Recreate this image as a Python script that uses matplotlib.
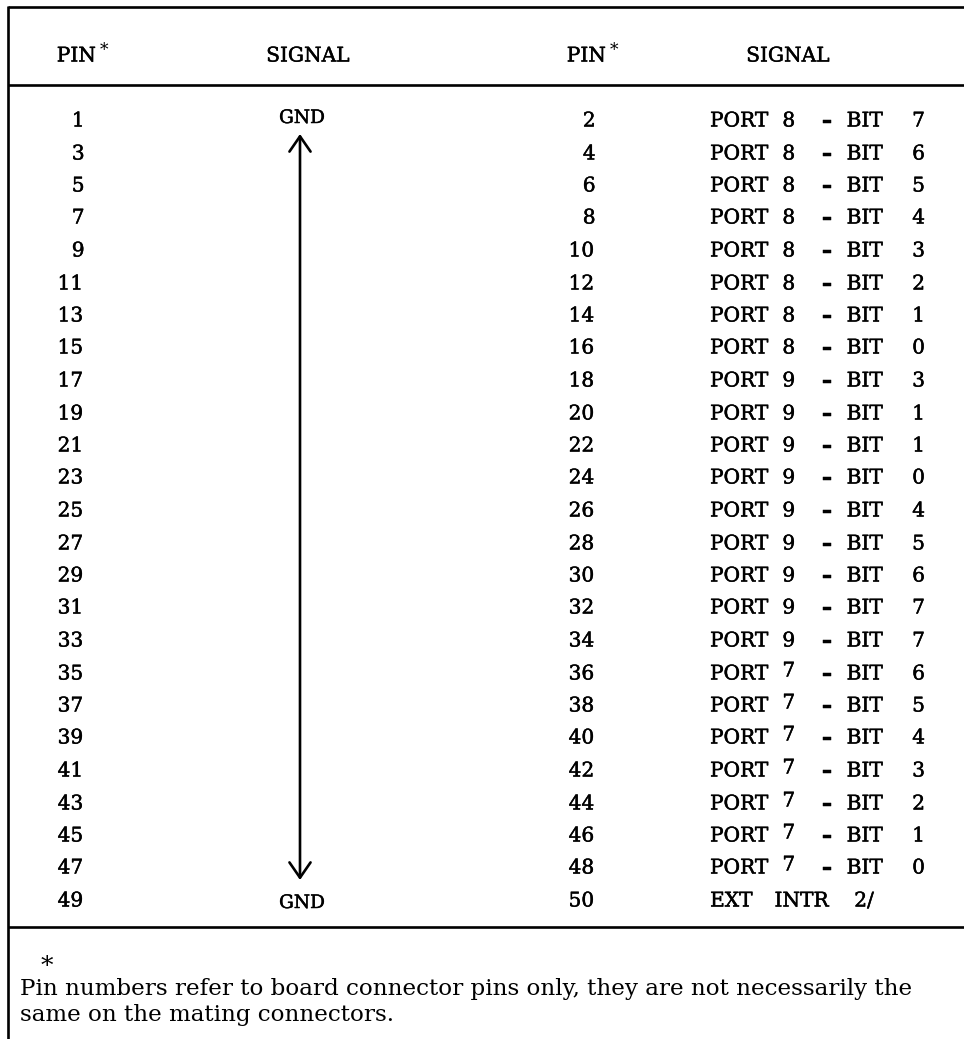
import matplotlib
matplotlib.use("Agg")
import matplotlib.pyplot as plt
import matplotlib.patheffects as pe

# ---------------- data ----------------
left_pins = [1, 3, 5, 7, 9, 11, 13, 15, 17, 19, 21, 23, 25,
             27, 29, 31, 33, 35, 37, 39, 41, 43, 45, 47, 49]
left_signal_top = "GND"
left_signal_bottom = "GND"

right_pins = [2, 4, 6, 8, 10, 12, 14, 16, 18, 20, 22, 24, 26,
              28, 30, 32, 34, 36, 38, 40, 42, 44, 46, 48, 50]
right_ports = [8, 8, 8, 8, 8, 8, 8, 8, 9, 9, 9, 9, 9,
               9, 9, 9, 9, 7, 7, 7, 7, 7, 7, 7, None]
right_bits = [7, 6, 5, 4, 3, 2, 1, 0, 3, 1, 1, 0, 4,
              5, 6, 7, 7, 6, 5, 4, 3, 2, 1, 0, None]
last_signal = "EXT INTR 2/"

headers = ["PIN", "SIGNAL", "PIN", "SIGNAL"]
footnote_mark = "*"
footnote_lines = [
    "Pin numbers refer to board connector pins only, they are not necessarily the",
    "same on the mating connectors.",
]

# ---------------- layout ----------------
W, H = 964, 1039
fig = plt.figure(figsize=(W / 100, H / 100), dpi=100)
ax = fig.add_axes([0, 0, 1, 1])
ax.set_xlim(0, W)
ax.set_ylim(H, 0)
ax.axis("off")

FONT = "DejaVu Serif"
FS = 14.5
PITCH = 15.6
INK = [pe.withStroke(linewidth=0.35, foreground="black")]
lw_border = 1.9
PORT_WORD_DX = [0, -5, 2, -7, 0]


def typewrite(x, y, s, align="left", fs=FS, pitch=PITCH, raise_words=None, word_dx=None):
    """Place each word of s on a fixed typewriter pitch grid."""
    total = len(s) * pitch
    if align == "right":
        x = x - total
    elif align == "center":
        x = x - total / 2
    k = 0
    for wi, word in enumerate(s.split(" ")):
        if word:
            cx = x + (k + len(word) / 2) * pitch
            if word_dx:
                cx += word_dx[wi]
            yy = y + (raise_words.get(wi, 0) if raise_words else 0)
            txt = word
            weight = "normal"
            if word == "-":
                txt, weight = "\u2013", "bold"
            ax.text(cx, yy, txt, family=FONT, fontsize=fs, fontweight=weight,
                    ha="center", va="center", path_effects=INK)
        k += len(word) + 1


# borders
ax.plot([8, W], [7, 7], color="black", lw=lw_border, solid_capstyle="butt")
ax.plot([8, W], [85, 85], color="black", lw=lw_border, solid_capstyle="butt")
ax.plot([8, W], [927, 927], color="black", lw=lw_border, solid_capstyle="butt")
ax.plot([8, 8], [6, H], color="black", lw=lw_border, solid_capstyle="butt")

# headers
hy = 56
typewrite(53, hy, headers[0])
ax.text(104, hy - 5, "*", family=FONT, fontsize=FS * 0.85, ha="center", va="center")
typewrite(308, hy, headers[1], align="center")
typewrite(563, hy, headers[2])
ax.text(614, hy - 5, "*", family=FONT, fontsize=FS * 0.85, ha="center", va="center")
typewrite(788, hy, headers[3], align="center")

# rows
y0, dy = 121, 32.5
n = len(left_pins)
for i in range(n):
    y = round(y0 + i * dy)
    typewrite(86, y, str(left_pins[i]), align="right")
    typewrite(597, y, str(right_pins[i]), align="right")
    if right_ports[i] is None:
        typewrite(708, y, last_signal)
    else:
        s = "PORT %d - BIT %d" % (right_ports[i], right_bits[i])
        shift = {1: -3} if right_ports[i] == 7 else None
        typewrite(708, y, s, raise_words=shift, word_dx=PORT_WORD_DX)

# left signal column: GND ... arrow ... GND
typewrite(302, y0 - 3, left_signal_top, align="center", fs=FS * 0.92)
typewrite(302, round(y0 + (n - 1) * dy) + 2, left_signal_bottom, align="center", fs=FS * 0.92)
ax.annotate("", xy=(300, 134), xytext=(300, 880),
            arrowprops=dict(arrowstyle="<->,head_length=0.55,head_width=0.38",
                            mutation_scale=20, lw=1.9, color="black",
                            shrinkA=0, shrinkB=0))

# footnote
ax.text(47, 966, footnote_mark, family=FONT, fontsize=18, ha="center", va="center",
        fontweight="light")
t1 = ax.text(20, 995, footnote_lines[0], family=FONT, fontsize=14, ha="left", va="baseline")
t2 = ax.text(20, 1021, footnote_lines[1], family=FONT, fontsize=14, ha="left", va="baseline")

# fit footnote width to the reference line length
fig.canvas.draw()
r = fig.canvas.get_renderer()
w = t1.get_window_extent(r).width
target = 913 - 20
fs = 14 * target / w
t1.set_fontsize(fs)
t2.set_fontsize(fs)

fig.savefig("out.png", dpi=100, facecolor="white")
